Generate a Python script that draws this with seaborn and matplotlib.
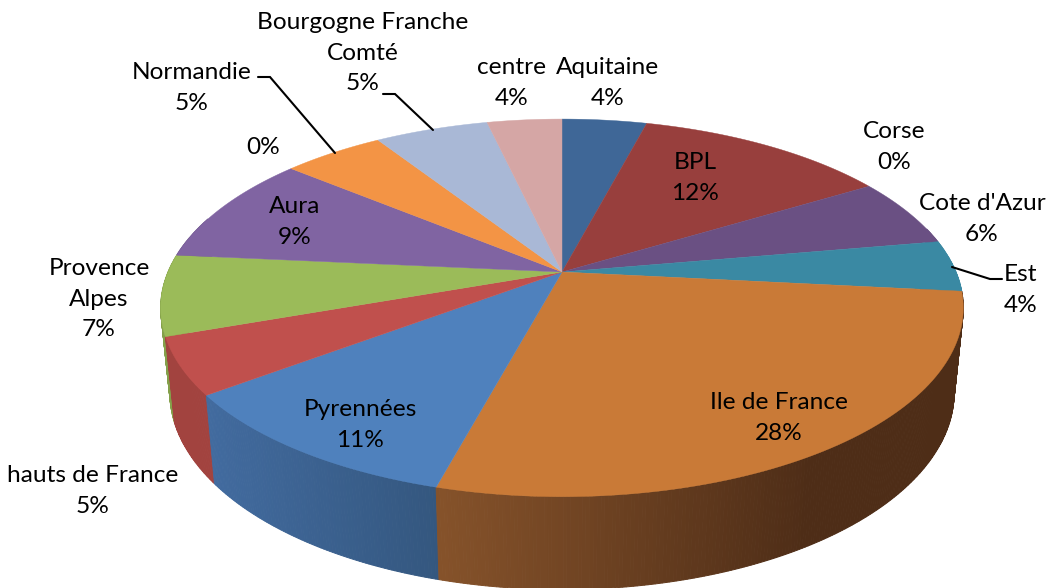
import numpy as np
import matplotlib
matplotlib.use("Agg")
import matplotlib.pyplot as plt
import seaborn as sns

sns.set_theme(style="white")
plt.rcParams['font.family'] = ['Lato', 'DejaVu Sans']

# Data, clockwise from the top
regions = ['Aquitaine', 'BPL', 'Corse', "Cote d'Azur", 'Est', 'Ile de France', 'Pyrennées',
           'hauts de France', 'Provence\nAlpes', 'Aura', '', 'Normandie',
           'Bourgogne Franche\nComté', 'centre']
values = [4.1, 12.25, 0.0, 5.9, 4.4, 27.55, 10.55, 4.85, 6.9, 9.49, 0.0, 4.9, 5.49, 3.62]
top_colors = ['#3f6797', '#983f3d', '#983f3d', '#6a5083', '#3a89a3', '#c97a37', '#4f81bd',
              '#c0504d', '#9bbb59', '#8064a2', '#8064a2', '#f39445', '#a9b8d6', '#d5a6a5']
side_left = ['#3f6797', '#983f3d', '#983f3d', '#6a5083', '#3a89a3', '#85522a', '#426b9f',
             '#a2433f', '#84a04a', '#6d5589', '#6d5589', '#d07c38', '#8f9db8', '#b58c8b']
side_right = ['#3f6797', '#983f3d', '#983f3d', '#6a5083', '#3a89a3', '#4e2d17', '#34577f',
              '#a2433f', '#84a04a', '#6d5589', '#6d5589', '#d07c38', '#8f9db8', '#b58c8b']

# Label centres in pixels, same order as regions
label_x = [608, 695, 894, 982, 1021, 779, 360, 93, 99, 295, 263, 192, 363, 512]
label_y = [83, 178, 147, 219, 290, 418, 425, 491, 299, 222, 147, 88, 53, 83]

# Leader lines (pixels)
leaders = [([952, 990, 1002], [267, 279, 279]),
           ([258, 270, 335], [77, 77, 153]),
           ([383, 395, 433], [94, 94, 130])]

# Perspective of the disc
K = 0.19
CX = 562
TOP = dict(a=394, b=182, cy=272)
BOTTOM = dict(a=385, b=190, cy=355)


def project(theta, plane):
    # theta in radians, clockwise from the back of the disc
    u = np.sin(theta)
    v = -np.cos(theta)
    den = 1 - K * v
    return CX + plane['a'] * u / den, plane['cy'] + plane['b'] * v / den


fig = plt.figure(figsize=(10.48, 5.88), dpi=100)
ax = fig.add_axes([0, 0, 1, 1])
ax.set_xlim(0, 1048)
ax.set_ylim(588, 0)
ax.axis('off')

vals = np.array(values)
edges = np.concatenate([[0], np.cumsum(vals)]) / vals.sum() * 2 * np.pi

# Side wall strips, drawn from the back round to the front
side_parts = []
for i in range(len(vals)):
    if vals[i] == 0:
        continue
    t = np.linspace(edges[i], edges[i + 1], int(vals[i] * 8) + 2)
    for j in range(len(t) - 1):
        mid = (t[j] + t[j + 1]) / 2
        if np.pi * 0.42 < mid < np.pi * 1.6:
            side_parts.append((abs(mid - np.pi), i, t[j], t[j + 1]))
side_parts.sort(key=lambda p: -p[0])

gradients = [sns.blend_palette([side_left[i], side_right[i]], 101) for i in range(len(vals))]
for _, i, t0, t1 in side_parts:
    x0, y0 = project(t0, TOP)
    x1, y1 = project(t1, TOP)
    x2, y2 = project(t1, BOTTOM)
    x3, y3 = project(t0, BOTTOM)
    if regions[i] == 'Ile de France':
        frac = np.clip(((x0 + x1) / 2 - 440) / 370, 0, 1)
    else:
        xa = project(edges[i], TOP)[0]
        xb = project(edges[i + 1], TOP)[0]
        frac = (((x0 + x1) / 2) - min(xa, xb)) / max(abs(xb - xa), 1)
        frac = np.clip(frac, 0, 1)
    col = gradients[i][int(frac * 100)]
    ax.fill([x0, x1, x2, x3], [y0, y1, y2, y3], color=col, lw=0.7, zorder=2)

# Top of the pie
for i in range(len(vals)):
    if vals[i] == 0:
        continue
    t = np.linspace(edges[i], edges[i + 1], 80)
    xs, ys = project(t, TOP)
    ax.fill(np.r_[CX, xs], np.r_[TOP['cy'], ys], color=top_colors[i], lw=0.3, zorder=3)

for lx, ly in leaders:
    ax.plot(lx, ly, color='black', lw=1.5, solid_joinstyle='miter', zorder=4)

for name, v, x, y in zip(regions, values, label_x, label_y):
    pct = f"{round(v / vals.sum() * 100):d}%"
    txt = f"{name}\n{pct}" if name else pct
    ax.text(x, y, txt, ha='center', va='center', fontsize=17.6, color='black',
            linespacing=1.56, zorder=5)

fig.savefig('out.png', dpi=100)
